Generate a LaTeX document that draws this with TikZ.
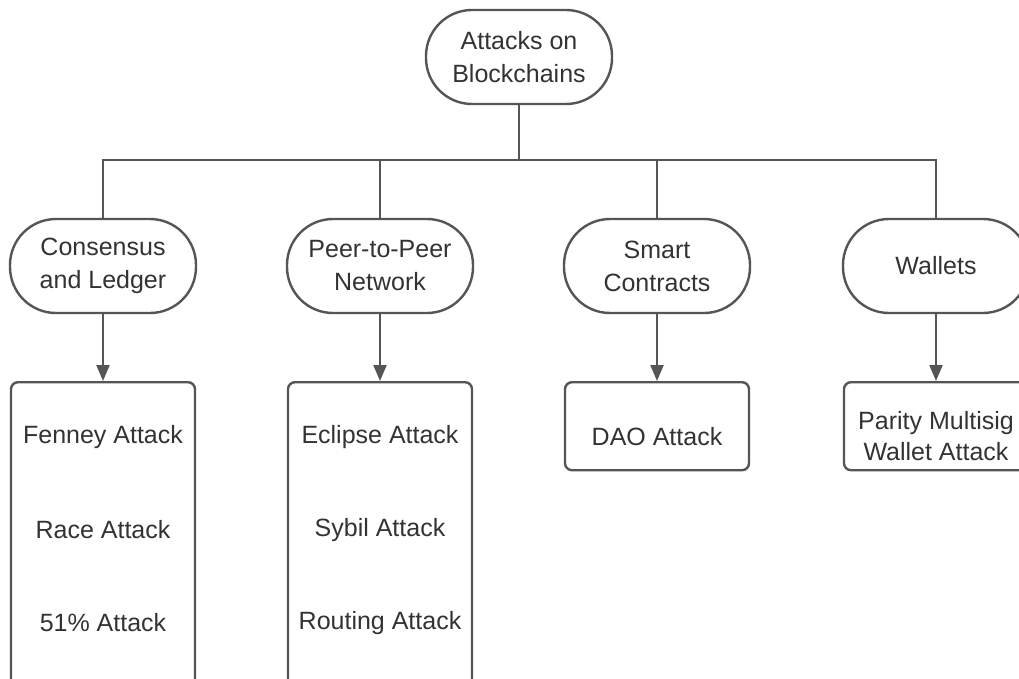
\documentclass[tikz,border=0pt]{standalone}
\usepackage{fontspec}
\setmainfont{Liberation Sans}
\usetikzlibrary{arrows.meta}
\definecolor{ln}{HTML}{555555}
\definecolor{tx}{HTML}{333333}
\tikzset{
  stadium/.style={draw=ln, line width=2.4pt, rectangle, rounded corners=46pt, minimum width=186pt, minimum height=94pt, align=center, text=tx, font=\fontsize{25}{33}\selectfont, inner sep=0pt},
  tallbox/.style={draw=ln, line width=2.4pt, rectangle, rounded corners=7pt, minimum width=184pt, anchor=north, inner sep=0pt},
  lbl/.style={text=tx, font=\fontsize{25}{31}\selectfont, align=center, inner sep=0pt},
  conn/.style={draw=ln, line width=2.2pt},
  arr/.style={conn, -{Triangle[length=16pt,width=13pt]}}
}
\begin{document}
\begin{tikzpicture}[x=1pt,y=-1pt]
\useasboundingbox (0,0) rectangle (1019,679);
\fill[white] (0,0) rectangle (1019,679);
\begin{scope}
\clip (0,0) rectangle (1019,679);
\node[stadium] (root) at (519,57) {Attacks on\\Blockchains};
\coordinate (bus) at (519,160);
\node[stadium] (c1) at (103,266) {Consensus\\and Ledger};
\node[stadium] (c2) at (380,266) {Peer-to-Peer\\Network};
\node[stadium] (c3) at (657,266) {Smart\\Contracts};
\node[stadium] (c4) at (936,266) {Wallets};
\node[tallbox, minimum height=330pt] (b1) at (103,381) {};
\node[tallbox, minimum height=330pt] (b2) at (380,381) {};
\node[tallbox, minimum height=88pt] (b3) at (657,381) {};
\node[tallbox, minimum height=88pt] (b4) at (936,381) {};
\node[lbl] (t11) at (103,437) {Fenney Attack};
\node[lbl] (t12) at (103,530) {Race Attack};
\node[lbl] (t13) at (103,623) {51\% Attack};
\node[lbl] (t21) at (380,437) {Eclipse Attack};
\node[lbl] (t22) at (380,530) {Sybil Attack};
\node[lbl] (t23) at (380,623) {Routing Attack};
\node[lbl] (t31) at (657,437) {DAO Attack};
\node[lbl] (t41) at (936,436) {Parity Multisig\\Wallet Attack};
\draw[conn] (root.south) -- (bus);
\draw[conn] (c1.north) |- (bus);
\draw[conn] (c2.north) |- (bus);
\draw[conn] (c3.north) |- (bus);
\draw[conn] (c4.north) |- (bus);
\draw[arr] (c1.south) -- (b1.north);
\draw[arr] (c2.south) -- (b2.north);
\draw[arr] (c3.south) -- (b3.north);
\draw[arr] (c4.south) -- (b4.north);
\end{scope}
\end{tikzpicture}
\end{document}
